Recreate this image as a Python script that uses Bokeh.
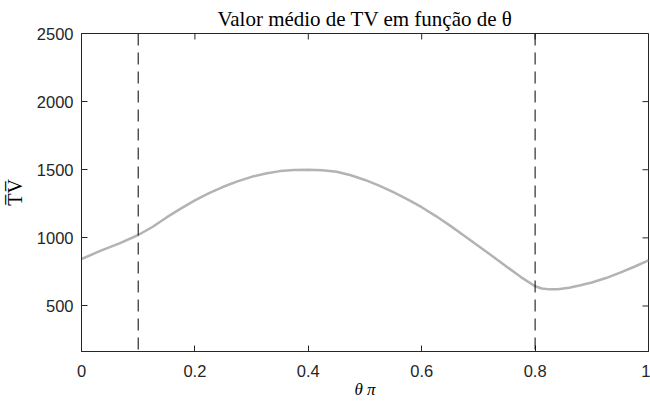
from bokeh.plotting import figure
from bokeh.models import Range1d, Span, FixedTicker
from bokeh.embed import file_html
from bokeh.resources import INLINE

# Data
theta = [0.0, 0.033, 0.05, 0.068, 0.1, 0.125, 0.15, 0.175, 0.2, 0.225, 0.25,
         0.275, 0.3, 0.325, 0.35, 0.375, 0.4, 0.425, 0.45, 0.475, 0.5, 0.525,
         0.55, 0.575, 0.6, 0.625, 0.65, 0.675, 0.7, 0.725, 0.75, 0.775, 0.8,
         0.812, 0.825, 0.84, 0.86, 0.88, 0.9, 0.925, 0.95, 0.975, 1.0]
tv_mean = [845, 904, 932, 962, 1021, 1080, 1150, 1215, 1275, 1328, 1375,
           1415, 1448, 1473, 1490, 1499, 1500, 1496, 1485, 1460, 1425, 1383,
           1336, 1283, 1225, 1160, 1090, 1016, 941, 865, 788, 712, 645,
           628, 622, 623, 634, 652, 672, 705, 745, 788, 835]
limits = [0.1, 0.8]
x_ticks = [0, 0.2, 0.4, 0.6, 0.8, 1]
y_ticks = [500, 1000, 1500, 2000, 2500]
x_tick_labels = {0: "0", 0.2: "0.2", 0.4: "0.4", 0.6: "0.6", 0.8: "0.8", 1: "1"}
x_min, x_max = 0, 1
y_min, y_max = 166, 2500

title_text = "Valor médio de TV em função de θ"
x_label = "θ π"
y_label = "T\u0305V\u0305"

axis_color = "#262626"
curve_color = "#b3b3b3"

W, H = 650, 401
BL, BR, BT, BB = 81, 2, 33, 50
frame_w = W - BL - BR
frame_h = H - BT - BB
tick_px = 6

p = figure(width=W, height=H, output_backend="svg", toolbar_location=None,
           x_range=Range1d(x_min, x_max), y_range=Range1d(y_min, y_max),
           min_border_left=BL, min_border_right=BR, min_border_top=BT,
           min_border_bottom=BB, background_fill_color="white",
           border_fill_color="white")
p.outline_line_color = axis_color
p.outline_line_width = 1
p.grid.visible = False

p.title.text = title_text
p.title.align = "center"
p.title.text_font = "Liberation Serif"
p.title.text_font_size = "21px"
p.title.text_font_style = "normal"
p.title.text_color = "black"
p.title.standoff = 6

def style_axis(ax):
    ax.axis_line_color = axis_color
    ax.axis_line_width = 1
    ax.major_tick_line_color = axis_color
    ax.major_tick_in = tick_px
    ax.major_tick_out = 0
    ax.minor_tick_line_color = None
    ax.major_label_text_font = "Liberation Sans"
    ax.major_label_text_font_size = "16.5px"
    ax.major_label_text_color = axis_color

xa = p.xaxis[0]
ya = p.yaxis[0]
xa.ticker = FixedTicker(ticks=x_ticks)
ya.ticker = FixedTicker(ticks=y_ticks)
xa.major_label_overrides = x_tick_labels
style_axis(xa)
style_axis(ya)
xa.major_label_standoff = 13
ya.major_label_standoff = 8
xa.axis_label = x_label
xa.axis_label_text_font = "Liberation Serif"
xa.axis_label_text_font_size = "17px"
xa.axis_label_text_font_style = "italic"
xa.axis_label_text_color = "black"
xa.axis_label_standoff = 0
ya.axis_label = y_label
ya.axis_label_text_font = "Liberation Serif"
ya.axis_label_text_font_size = "20px"
ya.axis_label_text_font_style = "normal"
ya.axis_label_text_color = "black"
ya.axis_label_standoff = 8

# Mirrored inward ticks on the top and right edges of the box
dy = tick_px * (y_max - y_min) / frame_h
dx = tick_px * (x_max - x_min) / frame_w
p.segment(x0=x_ticks, y0=[y_max] * len(x_ticks), x1=x_ticks,
          y1=[y_max - dy] * len(x_ticks), line_color=axis_color, line_width=1)
p.segment(x0=[x_max] * len(y_ticks), y0=y_ticks, x1=[x_max - dx] * len(y_ticks),
          y1=y_ticks, line_color=axis_color, line_width=1)

for loc in limits:
    p.add_layout(Span(location=loc, dimension="height", line_color="black",
                      line_width=1, line_dash="12 7"))

p.line(theta, tv_mean, line_color=curve_color, line_width=2.5)

open("out.html", "w").write(file_html(p, INLINE))
